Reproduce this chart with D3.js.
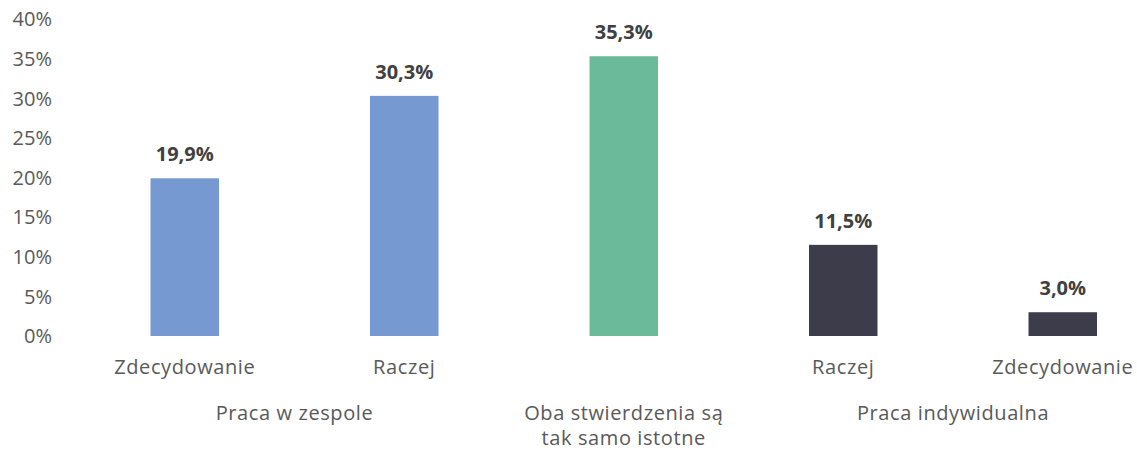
<!DOCTYPE html>
<html>
<head>
<meta charset="utf-8">
<script src="https://cdn.jsdelivr.net/npm/d3@7"></script>
<style>
  body { margin: 0; background: #fff; }
  svg { display: block; font-family: "Open Sans", sans-serif; }
</style>
</head>
<body>
<div id="chart"></div>
<script>
var width = 1137;
var height = 452;

// data
var categories = ["Zdecydowanie", "Raczej", "", "Raczej", "Zdecydowanie"];
var groups     = ["team", "team", "both", "solo", "solo"];
var values     = [19.9, 30.3, 35.3, 11.5, 3.0];
var yTicks     = [0, 5, 10, 15, 20, 25, 30, 35, 40];
var groupLabels = [
  { from: 0, to: 1, lines: ["Praca w zespole"] },
  { from: 2, to: 2, lines: ["Oba stwierdzenia są", "tak samo istotne"] },
  { from: 3, to: 4, lines: ["Praca indywidualna"] }
];
var groupColor = { team: "#7799d1", both: "#6bbb9b", solo: "#3d3c4b" };

var svg = d3.select("#chart").append("svg")
  .attr("width", width)
  .attr("height", height);

var x = d3.scaleBand()
  .domain(d3.range(values.length))
  .range([75, 1172.5])
  .paddingInner(0.688)
  .paddingOuter(0.344);

var y = d3.scaleLinear()
  .domain([0, 40])
  .range([336, 19]);

// y axis: labels only
var yAxis = svg.append("g")
  .attr("transform", "translate(52,0)")
  .call(d3.axisLeft(y).tickValues(yTicks).tickSize(0).tickPadding(0)
    .tickFormat(d => d + "%"));
yAxis.select(".domain").remove();
yAxis.selectAll("text")
  .attr("fill", "#595959")
  .style("font-size", "20px")
  .style("font-family", "Open Sans, sans-serif")
  .attr("dy", "0.34em");

// bars
svg.selectAll("rect.bar")
  .data(values)
  .join("rect")
  .attr("class", "bar")
  .attr("x", (d, i) => x(i))
  .attr("width", x.bandwidth())
  .attr("y", d => y(d))
  .attr("height", d => y(0) - y(d))
  .attr("fill", (d, i) => groupColor[groups[i]]);

// value labels
svg.selectAll("text.val")
  .data(values)
  .join("text")
  .attr("class", "val")
  .attr("x", (d, i) => x(i) + x.bandwidth() / 2)
  .attr("y", d => y(d) - 17)
  .attr("text-anchor", "middle")
  .attr("fill", "#404040")
  .style("font-size", "20px")
  .style("font-weight", "bold")
  .text(d => d.toFixed(1).replace(".", ",") + "%");

// category labels
svg.selectAll("text.cat")
  .data(categories)
  .join("text")
  .attr("class", "cat")
  .attr("x", (d, i) => x(i) + x.bandwidth() / 2)
  .attr("y", 374)
  .attr("text-anchor", "middle")
  .attr("fill", "#595959")
  .style("font-size", "20px")
  .style("letter-spacing", "0.6px")
  .text(d => d);

// group labels
var gl = svg.selectAll("text.grp")
  .data(groupLabels)
  .join("text")
  .attr("class", "grp")
  .attr("text-anchor", "middle")
  .attr("fill", "#595959")
  .style("font-size", "20px")
  .style("letter-spacing", "0.6px")
  .attr("transform", d => {
    var cx = (x(d.from) + x(d.to) + x.bandwidth()) / 2;
    return "translate(" + cx + ",420)";
  });
gl.selectAll("tspan")
  .data(d => d.lines)
  .join("tspan")
  .attr("x", 0)
  .attr("y", (d, i) => i * 25)
  .text(d => d);
</script>
</body>
</html>
